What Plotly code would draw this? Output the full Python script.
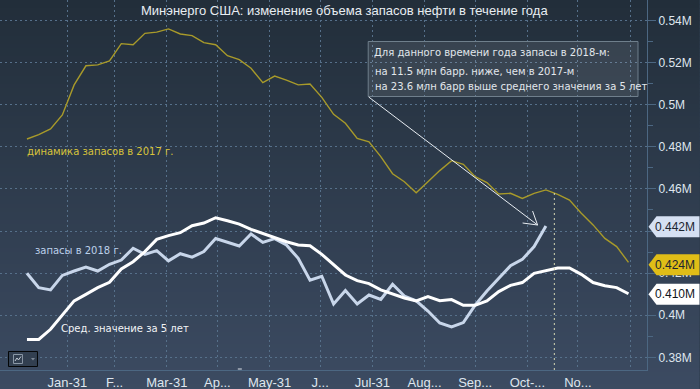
import plotly.graph_objects as go
from datetime import date, timedelta

W, H = 700, 389
PLOT_R, PLOT_B = 647.5, 370.0

dates = [date(2018, 1, 7) + timedelta(days=7 * i) for i in range(52)]
stocks_2017 = [.4837,.4858,.4885,.4951,.5094,.5185,.5189,.5208,.5290,.5285,.5339,.5345,.5360,.5336,.5328,.5295,.5285,
               .5233,.5214,.5173,.5105,.5136,.5117,.5094,.5098,.5035,.4954,.4912,.4840,.4824,.4753,.4672,.4634,.4582,
               .4634,.4687,.4734,.4717,.4658,.4630,.4576,.4579,.4555,.4579,.4595,.4574,.4547,.4484,.4429,.4365,.4326,.4251]
stocks_2018 = [.4199,.4131,.4120,.4189,.4210,.4229,.4210,.4242,.4262,.4318,.4289,.4307,.4258,.4292,.4276,.4302,.4364,
               .4346,.4329,.4386,.4346,.4364,.4334,.4270,.4166,.4185,.4053,.4117,.4053,.4096,.4075,.4147,.4091,.4068,
               .4020,.3963,.3944,.3965,.4048,.4115,.4175,.4235,.4265,.4326,.4424]
avg_5y = [.3885,.3885,.3933,.4001,.4068,.4099,.4131,.4156,.4220,.4254,.4302,.4360,.4378,.4392,.4425,.4438,.4463,
          .4449,.4433,.4408,.4389,.4370,.4349,.4334,.4330,.4289,.4242,.4191,.4164,.4150,.4120,.4101,.4082,.4068,
          .4088,.4069,.4074,.4047,.4047,.4068,.4112,.4142,.4155,.4199,.4213,.4224,.4224,.4194,.4155,.4140,.4131,.4102]

x_ticks = ["2018-01-31","2018-02-28","2018-03-31","2018-04-30","2018-05-31","2018-06-30",
           "2018-07-31","2018-08-31","2018-09-30","2018-10-31","2018-11-30","2018-12-31"]
x_labels = ["Jan-31","F...","Mar-31","Ap...","May-31","J...","Jul-31","Aug...","Sep...","Oct-...","No...",""]
y_ticks = [.38,.40,.42,.44,.46,.48,.50,.52,.54]
y_labels = ["0.38M","0.4M","0.42M","","0.46M","0.48M","0.5M","0.52M","0.54M"]
last_labels = [("0.442M", .442, "#d5e0f2", "#1c2530"), ("0.424M", .424, "#e0bd17", "#1c2530"), ("0.410M", .410, "#ffffff", "#10151b")]

PX = lambda x: x / PLOT_R
PY = lambda y: 1 - y / PLOT_B

shapes = []
TOP = (34, 46, 58)
BOT = (60, 75, 98)
for i in range(0, H, 4):
    t = i / H
    c = tuple(round(TOP[k] + (BOT[k] - TOP[k]) * t) for k in range(3))
    shapes.append(dict(type="rect", xref="paper", yref="paper", layer="below", x0=0, x1=PX(W),
                       y0=PY(i), y1=PY(i + 4.5), line=dict(width=0), fillcolor=f"rgb{c}"))

# callout box, arrow, cursor
shapes.append(dict(type="rect", xref="paper", yref="paper", x0=PX(368.5), x1=PX(638.5), y0=PY(41.5), y1=PY(96.5),
                   fillcolor="rgba(255,255,255,0.09)", line=dict(color="#6f7f8c", width=1)))
for a, b, c, d in [(369, 97, 538, 225), (523, 223, 538, 225), (533, 211, 538, 225)]:
    shapes.append(dict(type="line", xref="paper", yref="paper", x0=PX(a), y0=PY(b), x1=PX(c), y1=PY(d),
                       line=dict(color="#e8edf2", width=1)))
shapes.append(dict(type="line", xref="x", yref="paper", x0="2018-11-16", x1="2018-11-16", y0=0, y1=PY(193),
                   line=dict(color="#d4d6b4", width=1, dash="2px,3px")))
shapes.append(dict(type="line", xref="paper", yref="paper", x0=PX(238), x1=PX(242), y0=PY(369), y1=PY(369),
                   line=dict(color="#dfe5ea", width=1)))
# icon
shapes.append(dict(type="rect", xref="paper", yref="paper", x0=PX(8.5), x1=PX(37.5), y0=PY(351.5), y1=PY(366.5),
                   fillcolor="#323f50", line=dict(color="#050607", width=1)))
shapes.append(dict(type="rect", xref="paper", yref="paper", x0=PX(13.5), x1=PX(22.5), y0=PY(354.5), y1=PY(363.5),
                   fillcolor="rgba(0,0,0,0)", line=dict(color="#8b98a6", width=1)))
shapes.append(dict(type="path", xref="paper", yref="paper",
                   path=f"M{PX(15)},{PY(361)} L{PX(17)},{PY(358)} L{PX(18.5)},{PY(360)} L{PX(21)},{PY(356.5)}",
                   line=dict(color="#c3ccd6", width=1)))
shapes.append(dict(type="path", xref="paper", yref="paper",
                   path=f"M{PX(31)},{PY(358)} L{PX(35)},{PY(358)} L{PX(33)},{PY(360.5)} Z",
                   fillcolor="#7c8795", line=dict(width=0)))
# last value tags
for txt, v, bg, fg in last_labels:
    shapes.append(dict(type="path", xref="paper", yref="y", xsizemode="pixel", ysizemode="pixel",
                       xanchor=PX(649), yanchor=v, layer="above",
                       path="M0,0 L8,10.5 L51,10.5 L51,-10.5 L8,-10.5 Z", fillcolor=bg, line=dict(width=0)))

LBL = dict(family="DejaVu Sans", size=10)
annotations = [
    dict(text="Минэнерго США: изменение объема запасов нефти в течение года", x=PX(345), y=PY(10.5),
         font=dict(family="Liberation Sans", size=13, color="#e8edf2")),
    dict(text="динамика запасов в 2017 г.", x=PX(26), y=PY(151.5), xanchor="left", font=dict(LBL, color="#d9c43a")),
    dict(text="запасы в 2018 г.", x=PX(34), y=PY(251), xanchor="left", font=dict(LBL, color="#bcd0ea")),
    dict(text="Сред. значение за 5 лет", x=PX(60), y=PY(328.5), xanchor="left", font=dict(LBL, color="#f2f4f6")),
    dict(text="Для данного времени года запасы в 2018-м:", x=PX(373), y=PY(52), xanchor="left", font=dict(LBL, color="#e2e7ec")),
    dict(text="на 11.5 млн барр. ниже, чем в 2017-м", x=PX(374), y=PY(71.5), xanchor="left", font=dict(LBL, color="#e2e7ec")),
    dict(text="на 23.6 млн барр выше среднего значения за 5 лет", x=PX(374), y=PY(86.5), xanchor="left", font=dict(LBL, color="#e2e7ec")),
]
for txt, v, bg, fg in last_labels:
    annotations.append(dict(text=txt, x=PX(655), y=v, yref="y", xanchor="left", xref="paper",
                            font=dict(family="Liberation Sans", size=12, color=fg)))
for a in annotations:
    a.setdefault("xref", "paper")
    a.setdefault("yref", "paper")
    a.update(showarrow=False, borderpad=0, yanchor="middle")

fig = go.Figure()
fig.add_trace(go.Scatter(x=dates, y=stocks_2017, mode="lines", line=dict(color="#a89a2a", width=1.4)))
fig.add_trace(go.Scatter(x=dates[:len(stocks_2018)], y=stocks_2018, mode="lines", line=dict(color="#c8d6ea", width=3)))
fig.add_trace(go.Scatter(x=dates, y=avg_5y, mode="lines", line=dict(color="#ffffff", width=3)))

px_per_day = (528 - 67.3) / 273
x0 = date(2018, 1, 31) - timedelta(days=round(67.3 / px_per_day))
x1 = date(2018, 1, 31) + timedelta(days=round((PLOT_R - 67.3) / px_per_day))

y_per_px = 0.02 / 42.1
ymax = .54 + 20.5 * y_per_px
ymin = .54 - (PLOT_B - 20.5) * y_per_px

GRID = "#56708a"
fig.update_layout(
    width=W, height=H, autosize=False, showlegend=False,
    margin=dict(l=0, r=W - PLOT_R, t=0, b=H - PLOT_B),
    paper_bgcolor="#2d3b4c", plot_bgcolor="rgba(0,0,0,0)",
    shapes=shapes, annotations=annotations,
    xaxis=dict(type="date", range=[x0.isoformat(), x1.isoformat()], tickmode="array", tickvals=x_ticks, ticktext=x_labels,
               showgrid=True, gridcolor=GRID, griddash="2px,3px", gridwidth=1, zeroline=False,
               showline=True, linecolor="#4c6782", ticks="", tickangle=0,
               tickfont=dict(family="Liberation Sans", size=13, color="#dfe6ee")),
    yaxis=dict(side="right", range=[ymin, ymax], tickmode="array", tickvals=y_ticks, ticktext=y_labels,
               showgrid=True, gridcolor=GRID, griddash="2px,3px", gridwidth=1, zeroline=False,
               showline=True, linecolor="#4c6782", ticks="outside", ticklen=8, tickcolor="#4c6782",
               tickfont=dict(family="Liberation Sans", size=12, color="#dfe6ee"),
               minor=dict(tickvals=[.39,.41,.43,.45,.47,.49,.51,.53], ticks="outside", ticklen=5, tickcolor="#4c6782", showgrid=False)),
)
fig.write_html("out.html", config={"displayModeBar": False},
               post_script="document.body.style.margin='0';document.body.style.overflow='hidden';")
